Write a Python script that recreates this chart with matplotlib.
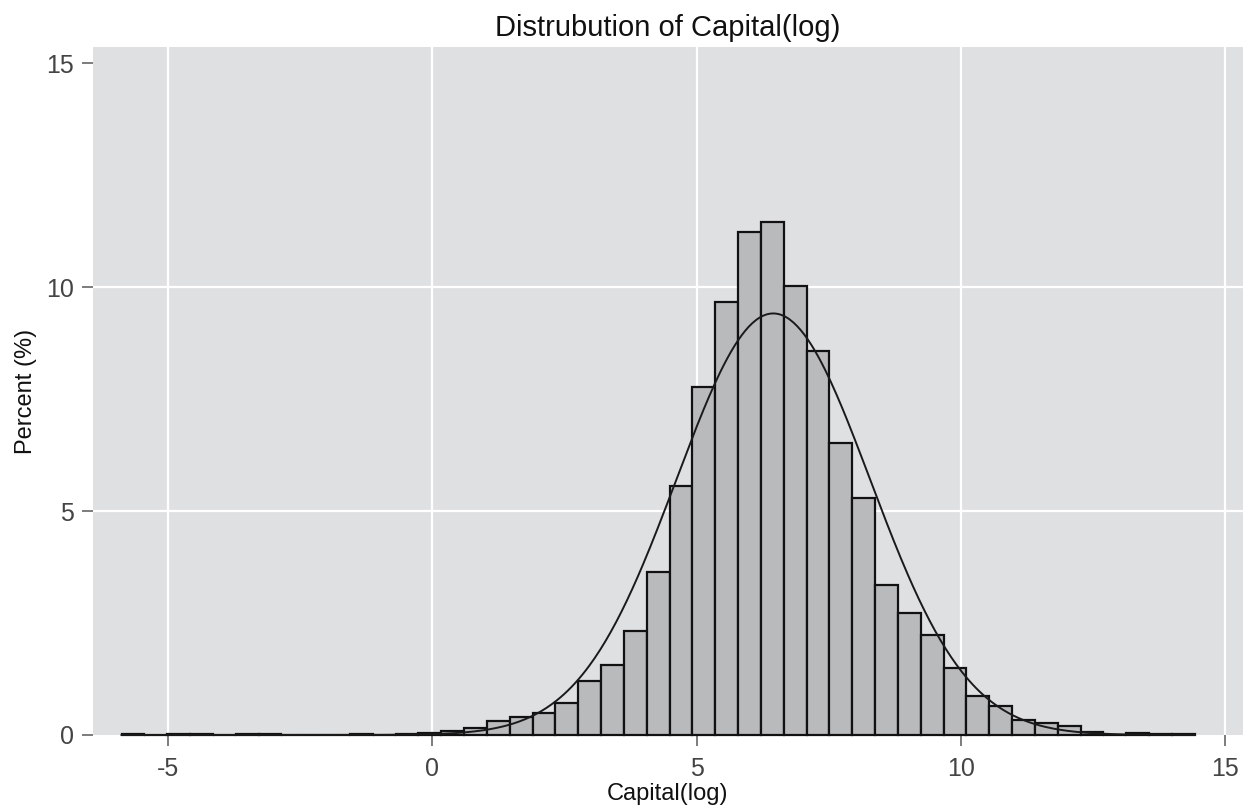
import numpy as np
import matplotlib.pyplot as plt

# histogram of log capital, 47 bins, heights in percent
bin_start = -5.87
bin_width = 0.4317
pct = [0.03, 0.0, 0.02, 0.02, 0.0, 0.02, 0.02, 0.0, 0.0, 0.0,
       0.02, 0.0, 0.02, 0.05, 0.09, 0.16, 0.31, 0.41, 0.49, 0.72,
       1.20, 1.57, 2.32, 3.65, 5.55, 7.76, 9.66, 11.22, 11.46, 10.02,
       8.58, 6.52, 5.28, 3.35, 2.72, 2.24, 1.49, 0.88, 0.64, 0.34,
       0.27, 0.19, 0.07, 0.01, 0.04, 0.03, 0.03]

# normal overlay
mu = 6.45
sd = 1.83

xticks = [-5, 0, 5, 10, 15]
yticks = [0, 5, 10, 15]

plt.rcParams['font.family'] = ['Liberation Sans', 'DejaVu Sans']

fig = plt.figure(figsize=(12.55, 8.10), dpi=100)
ax = fig.add_axes([0.0741, 0.0926, 0.9163, 0.8494])
ax.set_facecolor('#dfe0e2')

edges = bin_start + bin_width * np.arange(len(pct))
ax.bar(edges, pct, width=bin_width, align='edge', color='#b9babc',
       edgecolor='#111111', linewidth=1.6, zorder=3, clip_on=False)

xs = np.linspace(bin_start, bin_start + bin_width * len(pct), 600)
dens = 100 * bin_width * np.exp(-0.5 * ((xs - mu) / sd) ** 2) / (sd * np.sqrt(2 * np.pi))
ax.plot(xs, dens, color='#1a1a1a', linewidth=1.4, zorder=4, clip_on=False)

ax.set_xlim(-6.41, 15.33)
ax.set_ylim(0, 15.36)
ax.set_xticks(xticks)
ax.set_yticks(yticks)
ax.set_xticklabels([str(v) for v in xticks])

for v in xticks:
    ax.axvline(v, color='white', linewidth=1.6, zorder=1)
for v in [5, 10]:
    ax.axhline(v, color='white', linewidth=1.6, zorder=1)

for s in ax.spines.values():
    s.set_visible(False)
ax.tick_params(axis='both', direction='out', color='#666666', width=1.2,
               labelsize=18, labelcolor='#444444')
ax.tick_params(axis='y', length=8, pad=6)
ax.tick_params(axis='x', length=8, pad=8)

ax.set_title('Distrubution of Capital(log)', fontsize=21, color='#111111', pad=8)
ax.set_xlabel('Capital(log)', fontsize=17, color='#111111', labelpad=1)
ax.set_ylabel('Percent (%)', fontsize=17, color='#111111', labelpad=6)

fig.savefig('out.png', dpi=100, facecolor='white')
